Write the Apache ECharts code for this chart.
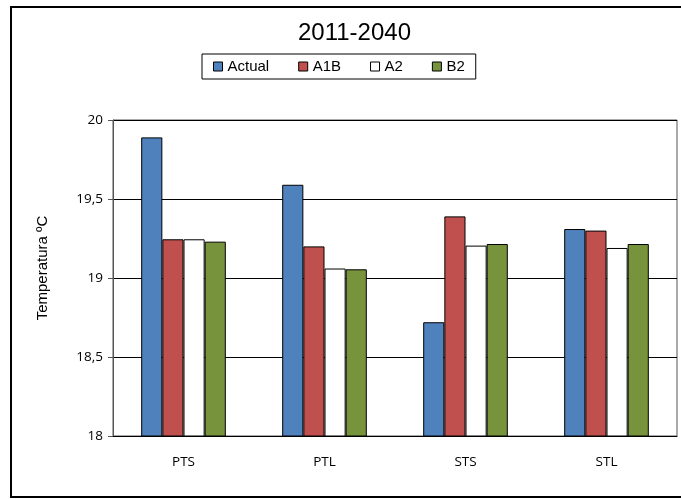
<!DOCTYPE html>
<html>
<head>
<meta charset="utf-8">
<script src="https://cdn.jsdelivr.net/npm/echarts@6/dist/echarts.min.js"></script>
<style>
  html, body { margin: 0; padding: 0; background: #fff; }
  #chart { width: 681px; height: 499px; }
</style>
</head>
<body>
<div id="chart"></div>
<script>
  // datos
  var categories = ['PTS', 'PTL', 'STS', 'STL'];
  var actual = [19.89, 19.59, 18.72, 19.31];
  var a1b = [19.245, 19.20, 19.39, 19.30];
  var a2 = [19.245, 19.06, 19.205, 19.19];
  var b2 = [19.23, 19.055, 19.215, 19.215];
  var yTicks = [18, 18.5, 19, 19.5, 20];

  var myChart = echarts.init(document.getElementById('chart'));

  function barSerie(name, color, data) {
    return {
      name: name,
      type: 'bar',
      barGap: 0,
      barCategoryGap: '40%',
      itemStyle: { color: color, borderColor: '#000', borderWidth: 1 },
      data: data
    };
  }

  var option = {
    animation: false,
    title: {
      text: '2011-2040',
      left: 293,
      top: 16,
      textStyle: { fontFamily: 'Liberation Sans', fontSize: 24, fontWeight: 'normal', color: '#000' }
    },
    legend: {
      left: 202,
      top: 54,
      padding: [5, 11, 5, 11],
      itemGap: 29,
      itemWidth: 9,
      itemHeight: 9,
      icon: 'rect',
      borderColor: '#000',
      borderWidth: 1,
      textStyle: { fontFamily: 'Liberation Sans', fontSize: 15, color: '#000' },
      itemStyle: { borderColor: '#000', borderWidth: 1 },
      data: ['Actual', 'A1B', 'A2', 'B2']
    },
    grid: {
      left: 113, top: 120, right: 4, bottom: 63,
      show: true, borderColor: '#555', borderWidth: 1
    },
    xAxis: {
      type: 'category',
      data: categories,
      axisLine: { lineStyle: { color: '#000' } },
      axisTick: { show: false },
      axisLabel: { fontFamily: 'Open Sans', fontSize: 13.5, color: '#000', margin: 19 }
    },
    yAxis: {
      type: 'value',
      min: 18,
      max: 20,
      interval: 0.5,
      name: 'Temperatura ºC',
      nameLocation: 'middle',
      nameGap: 63,
      nameTextStyle: { fontFamily: 'Liberation Sans', fontSize: 15, color: '#000', padding: [0, 0, 0, 20] },
      axisLine: { show: true, lineStyle: { color: '#555' } },
      axisTick: { show: true, length: 5, lineStyle: { color: '#555' } },
      splitLine: { lineStyle: { color: '#000' } },
      axisLabel: {
        fontFamily: 'Open Sans', fontSize: 13.5, color: '#000', margin: 10,
        formatter: function (v) { return yTicks.indexOf(v) >= 0 ? String(v).replace('.', ',') : ''; }
      }
    },
    graphic: [{
      type: 'rect',
      shape: { x: 11, y: 7, width: 680, height: 490 },
      style: { fill: 'none', stroke: '#000', lineWidth: 2 },
      silent: true
    }],
    series: [
      barSerie('Actual', '#4F81BD', actual),
      barSerie('A1B', '#C0504D', a1b),
      barSerie('A2', '#FFFFFF', a2),
      barSerie('B2', '#77933C', b2)
    ]
  };
  myChart.setOption(option);
</script>
</body>
</html>
